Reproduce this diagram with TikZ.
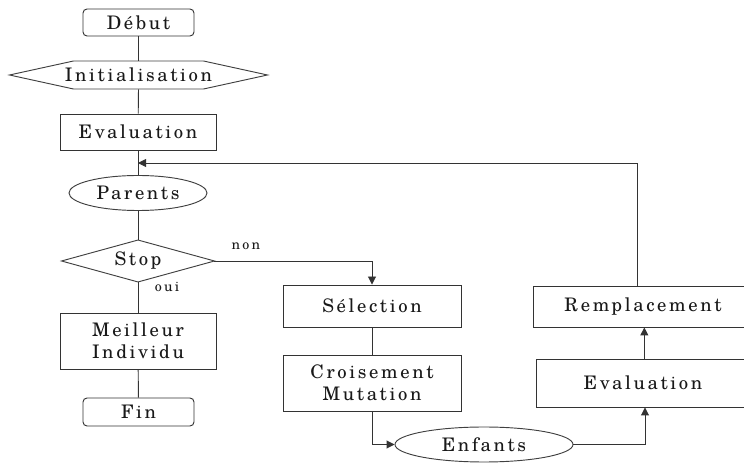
\documentclass[tikz,border=0pt]{standalone}
\usepackage{fontspec}
\usepackage{tikz}
\usetikzlibrary{positioning, arrows.meta, shapes.geometric}
\newfontfamily\boxfont{texgyreschola-regular.otf}[LetterSpace = 14]
\newfontfamily\smallfont{texgyreschola-regular.otf}[LetterSpace = 16]
\newcommand\boxtext{\boxfont\fontsize{14}{16.5}\selectfont}
\newcommand\smalltext{\smallfont\fontsize{10.5}{12}\selectfont}

\begin{document}
\begin{tikzpicture}[x = 0.75pt, y = 0.75pt,
  line width = 0.7pt,
  every node/.style = {font = \boxtext, color = black!90},
  box/.style = {draw = black!80, rectangle, align = center, inner sep = 0pt},
  roundbox/.style = {box, rounded corners = 3pt},
  oval/.style = {draw = black!75, ellipse, inner sep = 0pt},
  flat/.style = {rectangle, inner sep = 0pt},
  link/.style = {draw = black!80},
  arrow/.style = {link, -{Triangle[length = 6pt, width = 6pt]}},
  small/.style = {font = \smalltext}]
\path[use as bounding box, clip] (0, 0) rectangle (744, -463);

% left column
\node[roundbox, minimum width = 83.25pt, minimum height = 20.25pt] (debut) at (138.5, -22.5) {Début};
\node[flat, minimum height = 21pt] (init) at (138.5, -75) {Initialisation};
\draw[black!75] ([shift = {(-65, 14)}]init.center) -- ([shift = {(65, 14)}]init.center)
  -- ([shift = {(129, 0)}]init.center) -- ([shift = {(65, -14)}]init.center)
  -- ([shift = {(-65, -14)}]init.center) -- ([shift = {(-129, 0)}]init.center) -- cycle;
\node[box, minimum width = 117pt, minimum height = 27pt] (eval) at (138, -132) {Evaluation};
\node[oval, minimum width = 103.5pt, minimum height = 26.25pt] (parents) at (138, -193) {Parents};
\node[flat, minimum width = 114pt, minimum height = 30.75pt] (stop) at (138, -261) {Stop};
\draw[black!75] (stop.north) -- (stop.east) -- (stop.south) -- (stop.west) -- cycle;
\node[box, minimum width = 117pt, minimum height = 42pt] (best) at (138, -341) {Meilleur\\Individu};
\node[roundbox, minimum width = 83.25pt, minimum height = 21pt] (fin) at (138.5, -412) {Fin};

% middle and right columns
\node[box, minimum width = 133.5pt, minimum height = 31.5pt] (sel) at (372, -306) {Sélection};
\node[box, minimum width = 133.5pt, minimum height = 42pt] (cross) at (372, -383) {Croisement\\Mutation};
\node[oval, minimum width = 133.5pt, minimum height = 26.25pt] (enf) at (484, -444.5) {Enfants};
\node[box, minimum width = 160.5pt, minimum height = 36pt] (eval2) at (643, -383) {Evaluation};
\node[box, minimum width = 165pt, minimum height = 30.75pt] (remp) at (643, -306.5) {Remplacement};

\coordinate (join) at (138, -163);

% connectors
\draw[link] (debut) -- (init);
\draw[link] (init.south) -- (eval);
\draw[link] (eval) -- (parents);
\draw[link] (parents) -- (stop.north);
\draw[link] (stop.south) -- (best) node[small, pos = 0.15, right = 9pt] {oui};
\draw[link] (best) -- (fin);
\draw[arrow] (stop.east) -| (sel.north) node[small, pos = 0.1, above = 5pt] {non};
\draw[link] (sel) -- (cross);
\draw[arrow] (cross.south) |- (enf.west);
\draw[arrow] (enf.east) -| ([xshift = 1.5pt]eval2.south);
\draw[arrow] ([xshift = 1pt]eval2.north) -- ([xshift = 1pt]remp.south);
\draw[arrow] ([xshift = -4.5pt]remp.north) |- (join);
\end{tikzpicture}
\end{document}
